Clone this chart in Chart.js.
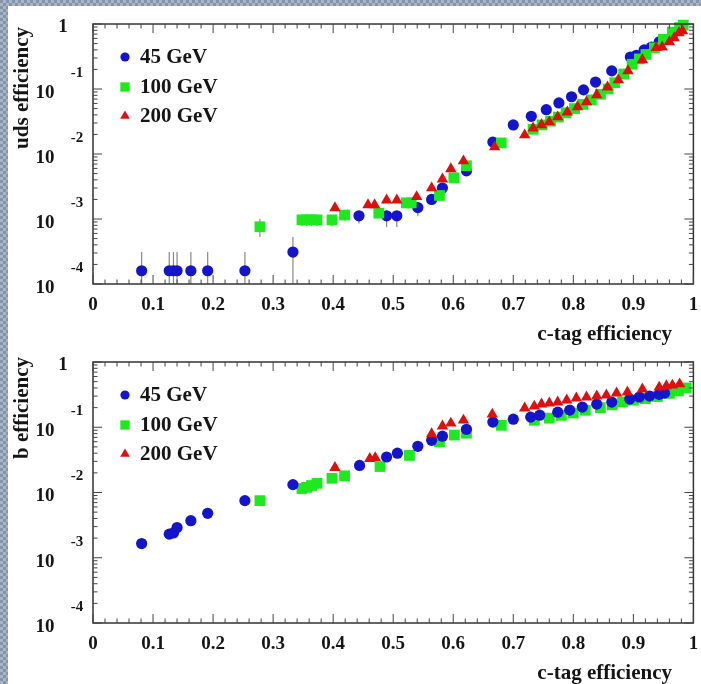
<!DOCTYPE html>
<html>
<head>
<meta charset="utf-8">
<title>c-tag efficiency</title>
<script src="https://cdn.jsdelivr.net/npm/chart.js@4.4.1/dist/chart.umd.min.js"></script>
<style>
html, body { margin: 0; padding: 0; }
body {
  width: 701px; height: 684px; overflow: hidden; position: relative;
  background-color: #93a1b6;
  background-image: repeating-conic-gradient(#a9b4c6 0 25%, #8394ab 0 50%);
  background-size: 6px 6px;
}
#paper { position: absolute; left: 8px; top: 6px; width: 693px; height: 678px; background: #fff; }
canvas { position: absolute; left: 0; filter: blur(0.6px); }
#top { top: 0; }
#bot { top: 345px; }
</style>
</head>
<body>
<div id="paper"></div>
<canvas id="top" width="701" height="345"></canvas>
<canvas id="bot" width="701" height="339"></canvas>
<script>
// series labels
const seriesNames = ['45 GeV', '100 GeV', '200 GeV'];

// x axis ticks (c-tag efficiency)
const xTickVals = [0, 0.1, 0.2, 0.3, 0.4, 0.5, 0.6, 0.7, 0.8, 0.9, 1];
const xTickLabels = ['0', '0.1', '0.2', '0.3', '0.4', '0.5', '0.6', '0.7', '0.8', '0.9', '1'];
// y axis decades (log scale)
const yDecades = [0, -1, -2, -3, -4];

// ---- top panel: uds efficiency ----
const udsBlueX = [0.081, 0.127, 0.134, 0.140, 0.163, 0.191, 0.253, 0.333, 0.443, 0.489, 0.506, 0.541, 0.564, 0.582, 0.622, 0.666, 0.700, 0.730, 0.755, 0.776, 0.797, 0.817, 0.837, 0.864, 0.895, 0.905, 0.918, 0.930, 0.943];
const udsBlueY = [1.6e-4, 1.6e-4, 1.6e-4, 1.6e-4, 1.6e-4, 1.6e-4, 1.6e-4, 3.1e-4, 1.12e-3, 1.12e-3, 1.12e-3, 1.5e-3, 2.0e-3, 3.0e-3, 5.5e-3, 0.0153, 0.028, 0.038, 0.048, 0.061, 0.076, 0.097, 0.128, 0.19, 0.31, 0.33, 0.40, 0.44, 0.53];
const udsGreenX = [0.278, 0.348, 0.356, 0.364, 0.373, 0.398, 0.419, 0.476, 0.522, 0.530, 0.577, 0.601, 0.622, 0.680, 0.733, 0.748, 0.762, 0.775, 0.788, 0.802, 0.816, 0.830, 0.845, 0.858, 0.869, 0.884, 0.898, 0.910, 0.921, 0.935, 0.950, 0.965, 0.977, 0.983];
const udsGreenY = [7.6e-4, 9.7e-4, 9.7e-4, 9.7e-4, 9.7e-4, 9.7e-4, 1.15e-3, 1.23e-3, 1.77e-3, 1.77e-3, 2.3e-3, 4.3e-3, 6.6e-3, 0.0148, 0.024, 0.028, 0.032, 0.037, 0.043, 0.050, 0.058, 0.068, 0.083, 0.10, 0.125, 0.17, 0.24, 0.29, 0.34, 0.43, 0.58, 0.75, 0.88, 0.96];
const udsRedX = [0.403, 0.458, 0.469, 0.489, 0.506, 0.539, 0.564, 0.582, 0.596, 0.617, 0.669, 0.719, 0.733, 0.747, 0.760, 0.774, 0.790, 0.807, 0.822, 0.839, 0.857, 0.875, 0.891, 0.915, 0.938, 0.948, 0.960, 0.968, 0.976, 0.982];
const udsRedY = [1.48e-3, 1.65e-3, 1.65e-3, 1.95e-3, 1.95e-3, 2.2e-3, 3.0e-3, 4.1e-3, 5.9e-3, 7.8e-3, 0.0128, 0.0196, 0.025, 0.028, 0.031, 0.037, 0.044, 0.053, 0.063, 0.081, 0.107, 0.138, 0.19, 0.28, 0.43, 0.44, 0.53, 0.61, 0.73, 0.78];
// error bars, top panel
const udsBlueErrX = [0.081, 0.127, 0.134, 0.140, 0.163, 0.191, 0.253, 0.333, 0.443, 0.489, 0.506, 0.541];
const udsBlueErrLo = [1e-4, 1e-4, 1e-4, 1e-4, 1e-4, 1e-4, 1e-4, 1e-4, 8.5e-4, 7.5e-4, 7.5e-4, 1.1e-3];
const udsBlueErrHi = [3.1e-4, 3.1e-4, 3.1e-4, 3.1e-4, 3.1e-4, 3.1e-4, 3.1e-4, 5.3e-4, 1.3e-3, 1.3e-3, 1.3e-3, 1.8e-3];
const udsGreenErrX = [0.278, 0.348, 0.356, 0.364, 0.373, 0.398, 0.419];
const udsGreenErrLo = [5.3e-4, 7.8e-4, 7.8e-4, 7.8e-4, 7.8e-4, 7.8e-4, 9.5e-4];
const udsGreenErrHi = [1.0e-3, 1.1e-3, 1.1e-3, 1.1e-3, 1.1e-3, 1.1e-3, 1.3e-3];

// ---- bottom panel: b efficiency ----
const bBlueX = [0.081, 0.127, 0.134, 0.140, 0.163, 0.191, 0.253, 0.333, 0.444, 0.489, 0.507, 0.541, 0.564, 0.582, 0.622, 0.666, 0.700, 0.729, 0.744, 0.774, 0.794, 0.815, 0.839, 0.864, 0.894, 0.910, 0.927, 0.943, 0.952];
const bBlueY = [1.65e-3, 2.3e-3, 2.4e-3, 2.9e-3, 3.7e-3, 4.8e-3, 7.5e-3, 0.0132, 0.026, 0.035, 0.040, 0.051, 0.063, 0.073, 0.093, 0.12, 0.133, 0.143, 0.153, 0.17, 0.183, 0.204, 0.226, 0.243, 0.27, 0.29, 0.30, 0.32, 0.333];
const bGreenX = [0.278, 0.348, 0.356, 0.364, 0.373, 0.398, 0.419, 0.478, 0.527, 0.577, 0.602, 0.622, 0.680, 0.735, 0.760, 0.780, 0.800, 0.820, 0.845, 0.865, 0.882, 0.900, 0.920, 0.940, 0.960, 0.975, 0.988];
const bGreenY = [7.5e-3, 0.0115, 0.012, 0.0128, 0.0138, 0.0165, 0.018, 0.025, 0.037, 0.060, 0.076, 0.081, 0.107, 0.128, 0.138, 0.152, 0.165, 0.182, 0.20, 0.22, 0.245, 0.26, 0.275, 0.295, 0.33, 0.36, 0.40];
const bRedX = [0.403, 0.461, 0.470, 0.564, 0.582, 0.596, 0.617, 0.665, 0.719, 0.735, 0.747, 0.760, 0.774, 0.789, 0.805, 0.822, 0.839, 0.855, 0.872, 0.890, 0.915, 0.943, 0.955, 0.965, 0.977];
const bRedY = [0.024, 0.033, 0.034, 0.079, 0.104, 0.115, 0.128, 0.158, 0.196, 0.21, 0.226, 0.234, 0.243, 0.26, 0.279, 0.29, 0.30, 0.31, 0.333, 0.345, 0.384, 0.41, 0.43, 0.44, 0.46];

const FONT = '"Liberation Serif", "DejaVu Serif", serif';
const colors = ['#1414cc', '#1ee81e', '#dd1010'];
const styles = ['circle', 'rect', 'triangle'];
const radii = [5.6, 7.6, 6.6];

function zip(xs, ys) {
  return xs.map((x, i) => ({x: x, y: ys[i]}));
}

// ROOT-like frame: ticks inside on all sides, labels, titles, legend, error bars
function rootFrame(opt) {
  return {
    id: 'rootFrame',
    beforeDatasetsDraw(chart) {
      const ctx = chart.ctx, xs = chart.scales.x, ys = chart.scales.y;
      ctx.save();
      ctx.strokeStyle = '#888';
      ctx.lineWidth = 1.2;
      opt.errors.forEach(e => {
        e.x.forEach((x, i) => {
          const px = xs.getPixelForValue(x);
          ctx.beginPath();
          ctx.moveTo(px, ys.getPixelForValue(e.lo[i]));
          ctx.lineTo(px, ys.getPixelForValue(e.hi[i]));
          ctx.stroke();
        });
      });
      ctx.restore();
    },
    afterDraw(chart) {
      const ctx = chart.ctx, a = chart.chartArea;
      const xs = chart.scales.x, ys = chart.scales.y;
      const line = (x1, y1, x2, y2) => { ctx.beginPath(); ctx.moveTo(x1, y1); ctx.lineTo(x2, y2); ctx.stroke(); };
      ctx.save();
      ctx.strokeStyle = '#333';
      ctx.lineWidth = 1.5;
      ctx.strokeRect(a.left, a.top, a.right - a.left, a.bottom - a.top);
      ctx.lineWidth = 1;
      ctx.strokeStyle = '#444';

      // x ticks: majors at labels, 5 minors between
      xTickVals.forEach((v, i) => {
        const px = xs.getPixelForValue(v);
        line(px, a.bottom, px, a.bottom - 9);
        line(px, a.top, px, a.top + 9);
        if (i < xTickVals.length - 1) {
          const step = (xTickVals[i + 1] - v) / 5;
          for (let k = 1; k < 5; k++) {
            const mx = xs.getPixelForValue(v + k * step);
            line(mx, a.bottom, mx, a.bottom - 4.5);
            line(mx, a.top, mx, a.top + 4.5);
          }
        }
      });
      // y ticks: decades and 2..9 minors
      yDecades.forEach(d => {
        const py = ys.getPixelForValue(Math.pow(10, d));
        line(a.left, py, a.left + 9, py);
        line(a.right, py, a.right - 9, py);
        if (d > yDecades[yDecades.length - 1]) {
          for (let m = 2; m < 10; m++) {
            const my = ys.getPixelForValue(m * Math.pow(10, d - 1));
            line(a.left, my, a.left + 4.5, my);
            line(a.right, my, a.right - 4.5, my);
          }
        }
      });

      ctx.fillStyle = '#151515';
      // x tick labels
      ctx.font = 'bold 19px ' + FONT;
      ctx.textAlign = 'center';
      ctx.textBaseline = 'middle';
      xTickVals.forEach((v, i) => {
        ctx.fillText(xTickLabels[i], xs.getPixelForValue(v), a.bottom + 21);
      });
      // y tick labels 10^n
      yDecades.forEach(d => {
        const py = ys.getPixelForValue(Math.pow(10, d));
        if (d === 0) {
          ctx.font = 'bold 19px ' + FONT;
          ctx.fillText('1', 63, py + 3);
        } else {
          ctx.font = 'bold 19px ' + FONT;
          ctx.fillText('10', 45, py + 4);
          ctx.font = 'bold 15px ' + FONT;
          ctx.fillText(String(d), 77, py - 16);
        }
      });
      // axis titles
      ctx.font = 'bold 21px ' + FONT;
      ctx.textAlign = 'right';
      ctx.fillText('c-tag efficiency', 672, a.bottom + 51);
      ctx.save();
      ctx.translate(23, opt.yTitleTop);
      ctx.rotate(-Math.PI / 2);
      ctx.font = 'bold 21px ' + FONT;
      ctx.textAlign = 'right';
      ctx.fillText(opt.yTitle, 0, 0);
      ctx.restore();

      // legend
      const rows = [33, 63, 92];
      seriesNames.forEach((name, i) => {
        const y = a.top + rows[i];
        ctx.fillStyle = colors[i];
        ctx.strokeStyle = colors[i];
        Chart.helpers.drawPoint(ctx, {pointStyle: styles[i], radius: radii[i] - 1, rotation: 0, borderWidth: 0}, 125, y);
        ctx.fillStyle = '#151515';
        ctx.font = 'bold 21px ' + FONT;
        ctx.textAlign = 'left';
        ctx.fillText(name, 140, y + 1);
      });
      ctx.restore();
    }
  };
}

function makeChart(id, sets, opt) {
  const datasets = sets.map((s, i) => ({
    label: seriesNames[i],
    data: zip(s[0], s[1]),
    pointStyle: styles[i],
    pointRadius: radii[i],
    backgroundColor: colors[i],
    borderColor: colors[i],
    borderWidth: 0,
    showLine: false,
    clip: false,
    order: opt.order[i]
  }));
  return new Chart(document.getElementById(id), {
    type: 'scatter',
    data: {datasets: datasets},
    options: {
      responsive: false,
      animation: false,
      events: [],
      devicePixelRatio: 1,
      layout: {padding: opt.padding},
      plugins: {legend: {display: false}, tooltip: {enabled: false}},
      scales: {
        x: {type: 'linear', min: 0, max: 1, display: false},
        y: {type: 'logarithmic', min: 1e-4, max: 1, display: false}
      }
    },
    plugins: [rootFrame(opt)]
  });
}

makeChart('top',
  [[udsBlueX, udsBlueY], [udsGreenX, udsGreenY], [udsRedX, udsRedY]],
  {
    padding: {left: 93, right: 7, top: 24, bottom: 61},
    yTitle: 'uds efficiency', yTitleTop: 27,
    order: [3, 2, 1],
    errors: [
      {x: udsBlueErrX, lo: udsBlueErrLo, hi: udsBlueErrHi},
      {x: udsGreenErrX, lo: udsGreenErrLo, hi: udsGreenErrHi}
    ]
  });

makeChart('bot',
  [[bBlueX, bBlueY], [bGreenX, bGreenY], [bRedX, bRedY]],
  {
    padding: {left: 93, right: 7, top: 17, bottom: 61},
    yTitle: 'b efficiency', yTitleTop: 12,
    order: [2, 3, 1],
    errors: []
  });
</script>
</body>
</html>
